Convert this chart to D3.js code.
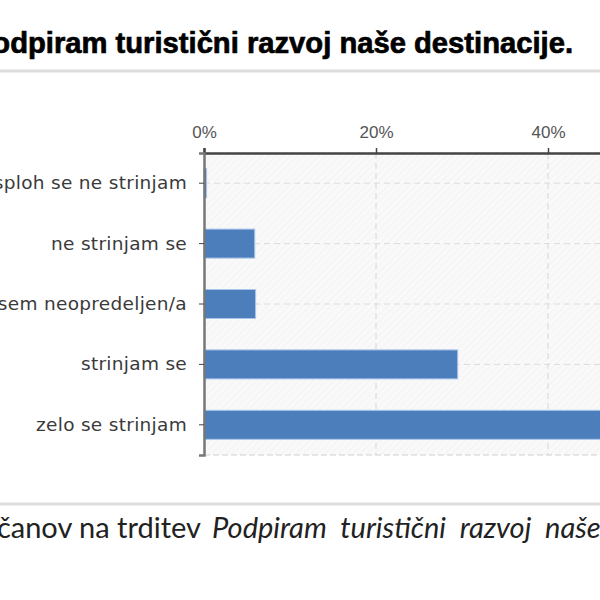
<!DOCTYPE html>
<html lang="sl">
    <head>
        <meta charset="utf-8">
        <title>Podpiram turistični razvoj</title>
        <script type="text/javascript" src="https://d3js.org/d3.v7.min.js"></script>
        <style>
          body { margin: 0; background: #fff; }
          text.cat { font-family: "DejaVu Sans", Verdana, sans-serif; font-size: 18.5px; fill: #3a3a3a; letter-spacing: 0.3px; }
          text.tick { font-family: "Liberation Sans", Arial, sans-serif; font-size: 17px; fill: #555; }
          text.cap { font-family: Lato, "Open Sans", sans-serif; font-size: 29px; fill: #222; }
        </style>
    </head>
    <body>
        <script type="text/javascript">
            const categories = ["sploh se ne strinjam", "ne strinjam se", "sem neopredeljen/a", "strinjam se", "zelo se strinjam"]
            const values = [0.3, 5.9, 6.0, 29.5, 58.3]
            const tick_values = [0, 20, 40, 60]
            const title = "Podpiram turistični razvoj naše destinacije."
            const caption_plain = "občanov na trditev"
            const caption_italic = "Podpiram turistični razvoj naše destinacije."

            const w = 600
            const h = 600
            const plot_left = 204, plot_top = 153, plot_bottom = 455

            const svg = d3.select("body")
                          .append("svg")
                          .attr("width", w)
                          .attr("height", h)

            // hatched plot background
            const pat = svg.append("defs").append("pattern")
               .attr("id", "hatch")
               .attr("width", 5).attr("height", 5)
               .attr("patternUnits", "userSpaceOnUse")
               .attr("patternTransform", "rotate(45)")
            pat.append("rect").attr("width", 5).attr("height", 5).attr("fill", "#f9f9f9")
            pat.append("line").attr("x1", 0).attr("y1", 0).attr("x2", 0).attr("y2", 5)
               .attr("stroke", "#eeeeee").attr("stroke-width", 1)

            const x = d3.scaleLinear().domain([0, 60]).range([plot_left, plot_left + 516])
            const y = d3.scaleBand().domain(categories).range([plot_top, plot_bottom]).paddingInner(0.52).paddingOuter(0.26)

            svg.append("rect")
               .attr("x", plot_left).attr("y", plot_top)
               .attr("width", w - plot_left).attr("height", plot_bottom - plot_top)
               .attr("fill", "url(#hatch)")

            // title
            svg.append("text")
               .attr("x", 573).attr("y", 53)
               .attr("text-anchor", "end")
               .attr("font-family", "Liberation Sans, Arial, sans-serif")
               .attr("font-weight", "bold")
               .attr("font-size", 29.2)
               .attr("fill", "#000")
               .attr("stroke", "#000")
               .attr("stroke-width", 0.7)
               .text(title)
            svg.append("line")
               .attr("x1", 0).attr("x2", w).attr("y1", 71).attr("y2", 71)
               .attr("stroke", "#dddddd").attr("stroke-width", 3)

            // grid
            svg.selectAll("line.vgrid")
               .data(tick_values.filter(d => d > 0))
               .enter()
               .append("line")
               .attr("class", "vgrid")
               .attr("x1", d => x(d)).attr("x2", d => x(d))
               .attr("y1", plot_top).attr("y2", plot_bottom)
               .attr("stroke", "#d6d6d6").attr("stroke-dasharray", "6,4")
            svg.selectAll("line.hgrid")
               .data(categories)
               .enter()
               .append("line")
               .attr("class", "hgrid")
               .attr("x1", plot_left).attr("x2", w)
               .attr("y1", d => y(d) + y.bandwidth() / 2).attr("y2", d => y(d) + y.bandwidth() / 2)
               .attr("stroke", "#dcdcdc").attr("stroke-dasharray", "6,4")
            svg.append("line")
               .attr("x1", plot_left).attr("x2", w).attr("y1", plot_bottom).attr("y2", plot_bottom)
               .attr("stroke", "#d0d0d0").attr("stroke-dasharray", "6,3")

            // bars
            svg.selectAll("rect.bar")
               .data(values)
               .enter()
               .append("rect")
               .attr("class", "bar")
               .attr("x", plot_left)
               .attr("y", (d, i) => y(categories[i]))
               .attr("width", d => x(d) - plot_left)
               .attr("height", y.bandwidth())
               .attr("fill", "#4c7ebc")
               .attr("stroke", "#a8c6ea")
               .attr("stroke-width", 1)

            // top axis
            const xAxis = svg.append("g")
               .attr("transform", `translate(0,${plot_top})`)
               .call(d3.axisTop(x).tickValues(tick_values).tickFormat(d => d + "%").tickSize(5).tickPadding(10))
            xAxis.attr("font-family", null).attr("font-size", null)
            xAxis.select(".domain").attr("stroke", "#444").attr("stroke-width", 2.5)
            xAxis.selectAll(".tick line").attr("stroke", "#444").attr("stroke-width", 1.5)
            xAxis.selectAll(".tick text").attr("class", "tick").attr("fill", null)

            // left axis
            const yAxis = svg.append("g")
               .attr("transform", `translate(${plot_left},0)`)
               .call(d3.axisLeft(y).tickSize(5).tickPadding(12))
            yAxis.attr("font-family", null).attr("font-size", null)
            yAxis.select(".domain").attr("stroke", "#777").attr("stroke-width", 2.5)
            yAxis.selectAll(".tick line").attr("stroke", "#444")
            yAxis.selectAll(".tick text").attr("class", "cat").attr("fill", null)

            // caption
            svg.append("line")
               .attr("x1", 0).attr("x2", w).attr("y1", 504).attr("y2", 504)
               .attr("stroke", "#dddddd").attr("stroke-width", 3)
            svg.append("text")
               .attr("class", "cap")
               .attr("x", 201).attr("y", 538)
               .attr("text-anchor", "end")
               .text(caption_plain)
            svg.append("text")
               .attr("class", "cap")
               .attr("x", 212).attr("y", 538)
               .attr("font-style", "italic")
               .attr("word-spacing", 7)
               .text(caption_italic)
        </script>
    </body>
</html>
